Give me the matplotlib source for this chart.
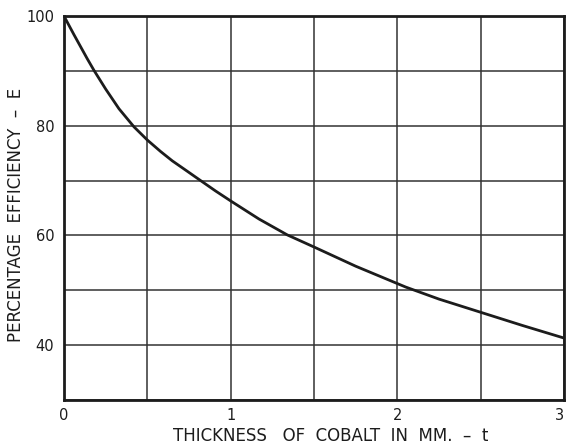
import numpy as np
from matplotlib import pyplot as plt

plt.rcParams['font.family'] = ['DejaVu Sans']

# values
thickness = [0.0, 0.03, 0.06, 0.1, 0.14, 0.18, 0.25, 0.33, 0.42, 0.5, 0.58, 0.65,
             0.74, 0.82, 0.91, 1.0, 1.17, 1.34, 1.5, 1.75, 2.05, 2.25, 2.5, 2.75, 3.0]
efficiency = [100, 98.3, 96.6, 94.4, 92.2, 90.1, 86.7, 83.1, 79.8, 77.4, 75.3, 73.6,
              71.7, 70.0, 68.1, 66.3, 63.0, 60.1, 57.9, 54.4, 50.6, 48.4, 46.0, 43.6, 41.3]

x_ticks = [0, 1, 2, 3]
y_ticks = [40, 60, 80, 100]

ink = '#1c1c1c'

fig = plt.figure(figsize=(5.66, 4.45), dpi=100)
ax = fig.add_axes([0.113, 0.101, 0.8835, 0.863])

ax.plot(thickness, efficiency, color=ink, lw=2.0, solid_capstyle='round',
        solid_joinstyle='round')

ax.set_xlim(0, 3)
ax.set_ylim(30, 100)
ax.set_xticks(np.arange(0, 3.01, 0.5), minor=True)
ax.set_yticks(np.arange(30, 100.1, 10), minor=True)
ax.set_xticks(x_ticks)
ax.set_yticks(y_ticks)
ax.set_xticklabels([str(v) for v in x_ticks])
ax.set_yticklabels([str(v) for v in y_ticks])
ax.grid(which='both', color='#333333', lw=1.1)
ax.tick_params(which='both', length=0, labelsize=10.5, colors=ink)
ax.tick_params(axis='x', pad=6)
ax.tick_params(axis='y', pad=7)
ax.get_xticklabels()[-1].set_horizontalalignment('right')

for sp in ax.spines.values():
    sp.set_linewidth(2.0)
    sp.set_color(ink)

ax.set_xlabel('THICKNESS   OF  COBALT  IN  MM.  \u2013  t', fontsize=12, color=ink)
ax.xaxis.set_label_coords(0.534, -0.071, transform=ax.transAxes)
ax.xaxis.label.set_verticalalignment('top')
ax.set_ylabel('PERCENTAGE  EFFICIENCY  \u2013  E', fontsize=12, color=ink)
ax.yaxis.set_label_coords(-0.078, 0.482)

plt.savefig('out.png', dpi=100)
